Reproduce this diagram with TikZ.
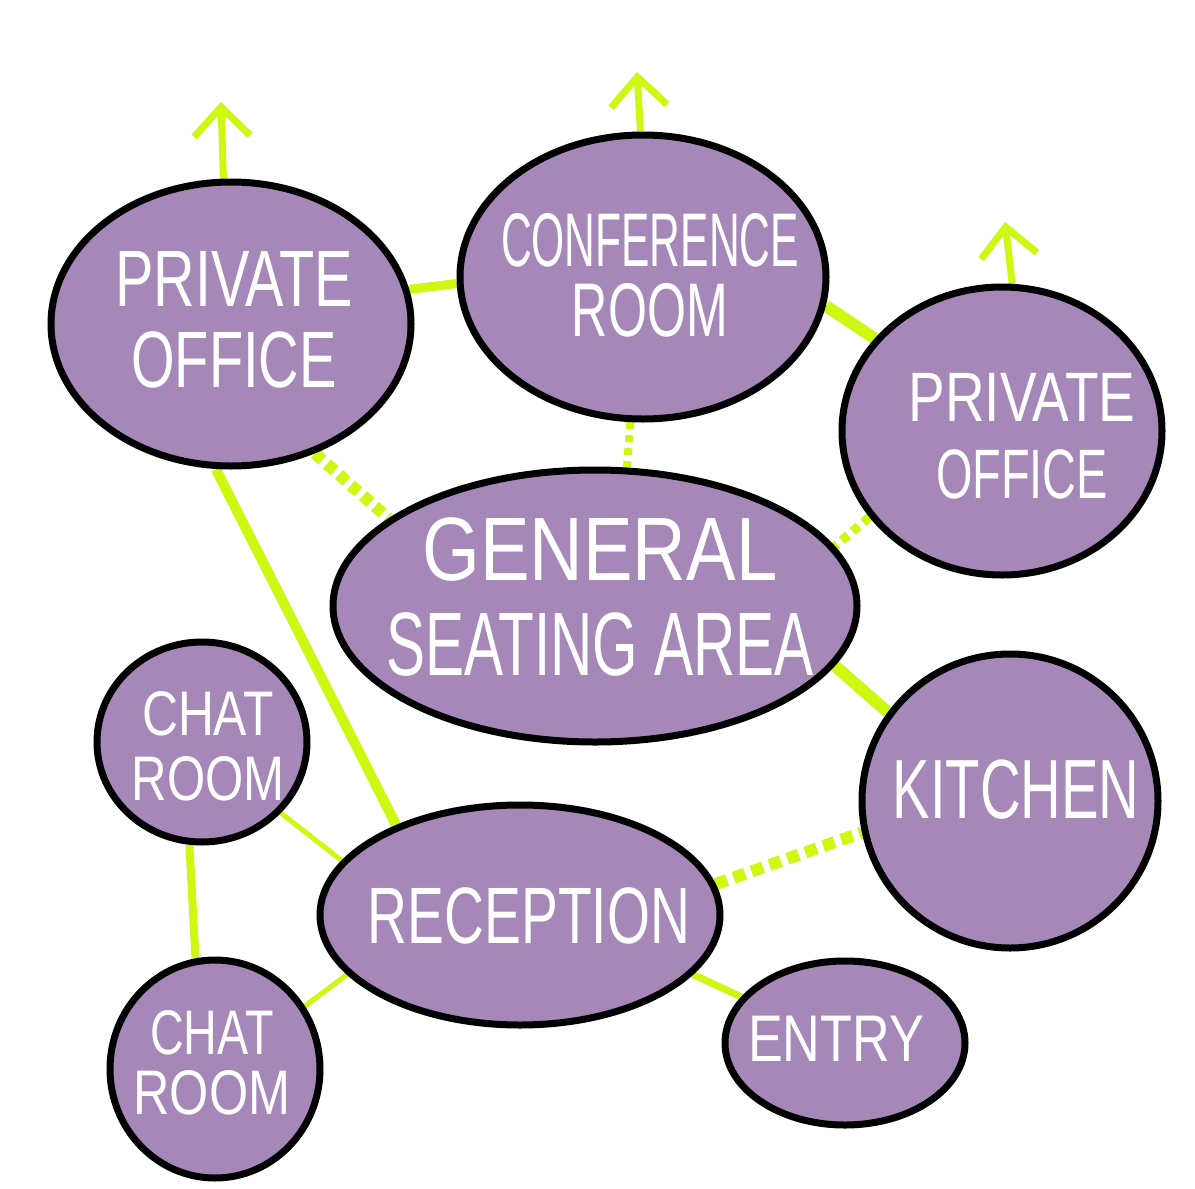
\documentclass[tikz,border=0pt]{standalone}
\usepackage{fontspec}
\setmainfont{Liberation Sans}
\usetikzlibrary{shapes.geometric,arrows.meta}
\definecolor{bubble}{RGB}{165,135,184}
\definecolor{lime}{RGB}{205,248,18}
\newcommand\hw[2]{\scalebox{#1}[1]{#2}}
\pgfdeclarelayer{bg}
\pgfsetlayers{bg,main}
\tikzset{
  room/.style={ellipse, draw=black, line width=7pt, fill=bubble, inner sep=0pt},
  lbl/.style={text=white, align=center, inner sep=0pt},
  link/.style={draw=lime, line width=#1},
  link/.default=9pt,
  dots/.style={draw=lime, line width=#1, dash pattern=on 9pt off 6pt},
  dots/.default=10pt,
  uparrow/.style={draw=lime, line width=7pt, -{Straight Barb[length=29pt,width=56pt,line width=7pt]}}
}
\begin{document}
\begin{tikzpicture}[x=1pt,y=-1pt]
\useasboundingbox (0,0) rectangle (1195,1189);

% rooms
\node[room, minimum width=360pt, minimum height=284pt] (po1) at (231,324) {};
\node[room, minimum width=366pt, minimum height=284pt] (conf) at (643,277) {};
\node[room, minimum width=320pt, minimum height=288pt] (po2) at (1002,431) {};
\node[room, minimum width=524pt, minimum height=272pt] (gen) at (595,606) {};
\node[room, minimum width=296pt, minimum height=294pt] (kit) at (1010,801) {};
\node[room, minimum width=210pt, minimum height=200pt] (chat1) at (202,742) {};
\node[room, minimum width=400pt, minimum height=220pt] (rec) at (520,915) {};
\node[room, minimum width=210pt, minimum height=218pt] (chat2) at (215,1069) {};
\node[room, minimum width=240pt, minimum height=164pt] (ent) at (845,1043) {};

% labels
\node[lbl, font=\fontsize{80}{81}\selectfont] (t1) at (234,320) {\hw{0.72}{PRIVATE}\\\hw{0.70}{OFFICE}};
\node[lbl, font=\fontsize{76}{70}\selectfont] (t2) at (650,275) {\hw{0.56}{CONFERENCE}\\\hw{0.66}{ROOM}};
\node[lbl, font=\fontsize{70}{77}\selectfont] (t3) at (1022,436) {\hw{0.785}{PRIVATE}\\\hw{0.67}{OFFICE}};
\node[lbl, font=\fontsize{90}{95}\selectfont] (t4) at (600,597) {\hw{0.825}{GENERAL}\\\hw{0.65}{SEATING AREA}};
\node[lbl, font=\fontsize{84}{84}\selectfont] (t5) at (1016,790) {\hw{0.67}{KITCHEN}};
\node[lbl, font=\fontsize{80}{80}\selectfont] (t6) at (529,916) {\hw{0.69}{RECEPTION}};
\node[lbl, font=\fontsize{63}{65}\selectfont] (t7) at (208,746) {\hw{0.79}{CHAT}\\\hw{0.78}{ROOM}};
\node[lbl, font=\fontsize{63}{60}\selectfont] (t8) at (212,1063) {\hw{0.74}{CHAT}\\\hw{0.80}{ROOM}};
\node[lbl, font=\fontsize{66}{66}\selectfont] (t9) at (836,1039) {\hw{0.79}{ENTRY}};

% arrow tips
\coordinate (a1) at (221,102);
\coordinate (a2) at (637,72);
\coordinate (a3) at (1005,222);

\begin{pgfonlayer}{bg}
\fill[white] (0,0) rectangle (1195,1189);
% solid links
\draw[link=9pt]  (po1.11) -- (conf.182);
\draw[link=12pt] (conf.351) -- (po2.144);
\draw[link=12pt] (gen.346.5) -- (kit.144);
\draw[link=10pt] (po1.264.7) -- (rec.144.5);
\draw[link=5pt]  (chat1.318.5) -- (rec.163.6);
\draw[link=8pt]  (chat1.263) -- (chat2.100.6);
\draw[link=5pt]  (rec.199.4) -- (chat2.35.4);
\draw[link=7pt]  (rec.341.6) -- (ent.156.8);
% dotted links
\draw[dots=12pt, dash pattern=on 10pt off 6pt] (po1.303.7) -- (gen.157.9);
\draw[dots=8pt, dash pattern=on 7pt off 6pt] (conf.265.5) -- (gen.77.6);
\draw[dots=9pt, dash pattern=on 8pt off 6pt] (po2.213) -- (gen.14.3);
\draw[dots=12pt, dash pattern=on 12pt off 7pt] (rec.9.5) -- (kit.192.2);
% arrows
\draw[uparrow] (po1.93.7) -- (a1);
\draw[uparrow] (conf.91.2) -- (a2);
\draw[uparrow] (po2.86) -- (a3);
\end{pgfonlayer}
\end{tikzpicture}
\end{document}
